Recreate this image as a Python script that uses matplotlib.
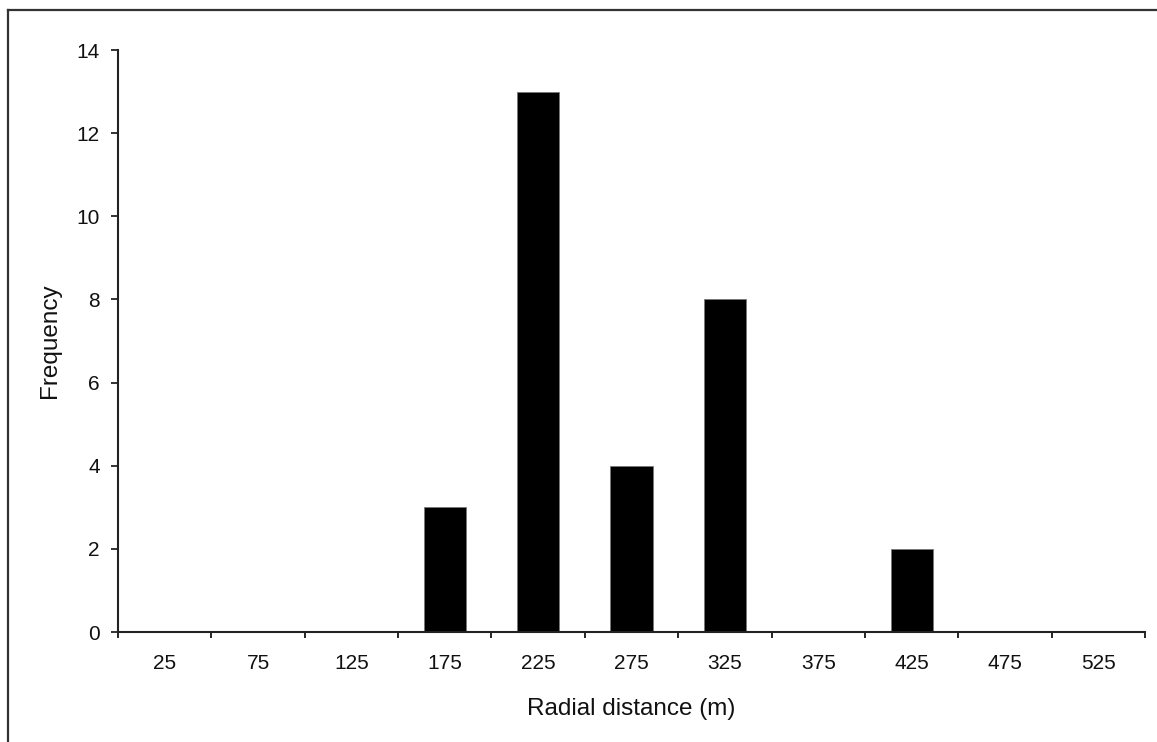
import numpy as np
import matplotlib.pyplot as plt
from matplotlib.lines import Line2D

plt.rcParams["font.family"] = ["Liberation Sans", "DejaVu Sans"]

categories = ["25", "75", "125", "175", "225", "275", "325", "375", "425", "475", "525"]
frequency = [0, 0, 0, 3, 13, 4, 8, 0, 2, 0, 0]

W, H = 1157, 742
fig = plt.figure(figsize=(W / 100, H / 100), dpi=100)
ax = fig.add_axes([118 / W, 1 - 632 / H, (1145 - 118) / W, (632 - 50) / H])

x = np.arange(len(categories))
ax.bar(x, frequency, width=0.45, color="black", edgecolor="#777777", linewidth=0.6)

ax.set_xlim(-0.5, len(categories) - 0.5)
ax.set_ylim(0, 14)
ax.set_yticks(range(0, 15, 2))
ax.set_xticks(x)
ax.set_xticklabels(categories)
# tick marks sit between categories, labels at centres
ax.set_xticks(np.arange(-0.5, len(categories)), minor=True)
ax.tick_params(axis="x", which="major", length=0, pad=16, labelsize=15, colors="#111111")
ax.tick_params(axis="x", which="minor", length=4, width=1.2, direction="out")
ax.tick_params(axis="y", length=5, width=1.2, pad=8, labelsize=15, colors="#111111")

for side in ["top", "right"]:
    ax.spines[side].set_visible(False)
for side in ["left", "bottom"]:
    ax.spines[side].set_linewidth(1.5)
    ax.spines[side].set_color("#222222")

ax.set_xlabel("Radial distance (m)", fontsize=17.5, labelpad=18, color="#111111")
ax.set_ylabel("Frequency", fontsize=17.5, labelpad=11.5, color="#111111")

# outer frame (left and top edges visible)
fig.add_artist(Line2D([8 / W, 8 / W], [0, 1 - 10 / H], color="#333333", lw=1.6, transform=fig.transFigure))
fig.add_artist(Line2D([8 / W, 1], [1 - 10 / H, 1 - 10 / H], color="#333333", lw=1.6, transform=fig.transFigure))

plt.savefig("out.png", dpi=100)
